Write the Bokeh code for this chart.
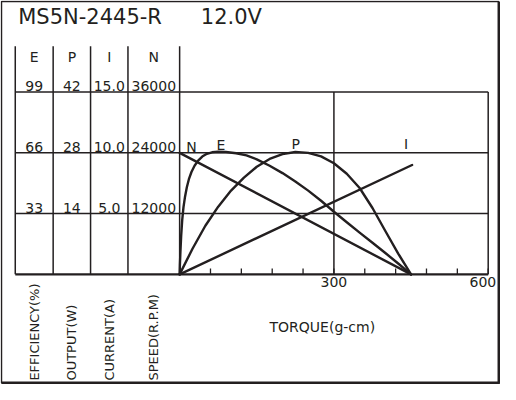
from math import pi

from bokeh.core.properties import value
from bokeh.embed import file_html
from bokeh.models import Range1d
from bokeh.plotting import figure
from bokeh.resources import INLINE


# Curves (torque in g-cm)
torque_n = [0, 450]
speed    = [24000, 0]

torque_i = [0, 452]
current  = [0, 9.0]

torque_p = [0, 25, 50, 75, 100, 125, 150, 175, 200, 225,
            250, 275, 300, 325, 350, 375, 400, 425, 450]
power    = [0, 5.9, 11.2, 15.6, 19.3, 22.3, 24.8, 26.6, 27.7, 28.2,
            28.0, 27.2, 25.6, 23.2, 19.9, 15.3, 10.0, 4.8, 0]

torque_e   = [0, 0.5, 1.5, 3, 5, 7.5, 10.5, 14, 18, 23, 29, 36, 44, 53, 63, 75,
              90, 110, 130, 150, 175, 200, 225, 250, 275, 300, 325, 350, 375,
              400, 425, 450]
efficiency = [0, 5.0, 12.0, 21.0, 29.5, 36.5, 42.2, 47.3, 51.7, 55.6, 59.0, 61.8,
              64.0, 65.5, 66.3, 66.6, 66.5, 65.8, 64.6, 62.5, 59.0, 55.0, 50.5,
              45.5, 40.0, 34.0, 28.3, 22.7, 17.2, 11.6, 5.9, 0]

# Table scales
eff_ticks = [99, 66, 33]
out_ticks = [42, 28, 14]
cur_ticks = [15.0, 10.0, 5.0]
spd_ticks = [36000, 24000, 12000]
headers   = ["E", "P", "I", "N"]
names     = ["EFFICIENCY(%)", "OUTPUT(W)", "CURRENT(A)", "SPEED(R.P.M)"]

torque_ticks  = [60, 120, 180, 240, 300, 360, 420, 480, 540, 600]
torque_labels = ["300", "600"]

curve_labels = ["N", "E", "P", "I"]

title_model = "MS5N-2445-R"
title_volt  = "12.0V"
x_title     = "TORQUE(g-cm)"


INK  = "#231f20"
FONT = "DejaVu Sans"

# layout of the drawing, in pixels of the original sheet
KX = 600 / 313.5      # torque per px
KY = 36000 / 187.0    # rpm per px


def tx(px):
    return (px - 185) * KX


def ty(py):
    return (284 - py) * KY


y0, y1 = ty(397), ty(3)
p = figure(
    width=500, height=384,
    x_range=Range1d(tx(3), tx(511)), y_range=Range1d(y0, y1),
    x_axis_type=None, y_axis_type=None,
    output_backend="svg", toolbar_location=None, min_border=0,
)
p.grid.visible = False
p.outline_line_color = None
p.background_fill_color = "white"
p.extra_y_ranges = {
    "eff": Range1d(y0 * 99 / 36000, y1 * 99 / 36000),
    "out": Range1d(y0 * 42 / 36000, y1 * 42 / 36000),
    "cur": Range1d(y0 * 15 / 36000, y1 * 15 / 36000),
}

# outer frame, heavier on the right and bottom
p.multi_line(
    xs=[[tx(4), tx(4), tx(509.5)], [tx(4), tx(509.5)]],
    ys=[[ty(395.5), ty(4), ty(4)], [ty(395.5), ty(395.5)]],
    line_color=INK, line_width=1.5,
)
p.multi_line(
    xs=[[tx(509.5), tx(509.5), tx(4)]],
    ys=[[ty(4), ty(395.5), ty(395.5)]],
    line_color=INK, line_width=3,
)

# table columns and grid
col_edges = [tx(18), tx(56.5), tx(94.5), tx(132.5), 0]
col_mid = [(a + b) / 2 for a, b in zip(col_edges[:-1], col_edges[1:])]
p.segment(x0=col_edges, y0=[ty(50)] * 5, x1=col_edges, y1=[0] * 5,
          line_color=INK, line_width=1.5)
p.segment(x0=[tx(18)] * 3, y0=spd_ticks, x1=[torque_ticks[-1]] * 3, y1=spd_ticks,
          line_color=INK, line_width=1.5)
p.segment(x0=[tx(18)], y0=[0], x1=[torque_ticks[-1]], y1=[0],
          line_color=INK, line_width=2.2)
p.segment(x0=[300, 600], y0=[0, 0], x1=[300, 600], y1=[spd_ticks[0]] * 2,
          line_color=INK, line_width=1.5)
p.segment(x0=torque_ticks, y0=[0] * len(torque_ticks),
          x1=torque_ticks, y1=[6 * KY] * len(torque_ticks),
          line_color=INK, line_width=1.3)

txt = dict(text_color=INK, text_font=value(FONT))

# torque labels; the last one is pulled in so it stays inside the frame
p.text(x=[300], y=[0], text=torque_labels[:1], text_align="center",
       text_baseline="top", y_offset=3, text_font_size="14px", **txt)
p.text(x=[600], y=[0], text=torque_labels[1:], text_align="right",
       text_baseline="top", x_offset=8, y_offset=3, text_font_size="14px", **txt)
p.text(x=[tx(330)], y=[ty(338)], text=[x_title], text_align="center",
       text_baseline="middle", text_font_size="14px", **txt)

# headers and scale values
p.text(x=col_mid, y=[ty(61)] * 4, text=headers, text_align="center",
       text_baseline="middle", text_font_size="14px", **txt)
cols = [
    (eff_ticks, "eff", [str(v) for v in eff_ticks]),
    (out_ticks, "out", [str(v) for v in out_ticks]),
    (cur_ticks, "cur", ["%.1f" % v for v in cur_ticks]),
    (spd_ticks, "default", [str(v) for v in spd_ticks]),
]
for cx, (vals, rng, labels) in zip(col_mid, cols):
    p.text(x=[cx] * len(vals), y=vals, text=labels, y_range_name=rng,
           text_align="center", text_baseline="bottom", y_offset=-1,
           text_font_size="14px", **txt)

p.text(x=col_mid, y=[ty(393)] * 4, text=names, angle=pi / 2,
       text_align="left", text_baseline="middle", text_font_size="13px", **txt)

# title
p.text(x=[tx(21)], y=[ty(19.5)], text=[title_model], text_align="left",
       text_baseline="middle", text_font_size="21px", **txt)
p.text(x=[tx(206.5)], y=[ty(19.5)], text=[title_volt], text_align="left",
       text_baseline="middle", text_font_size="21px", **txt)

# curves
curve = dict(line_color=INK, line_width=2.4, line_join="round", line_cap="round")
p.line(torque_n, speed, **curve)
p.line(torque_i, current, y_range_name="cur", **curve)
p.line(torque_p, power, y_range_name="out", **curve)
p.line(torque_e, efficiency, y_range_name="eff", **curve)

p.text(x=[tx(197), tx(227), tx(303), tx(415)],
       y=[ty(153), ty(151), ty(150), ty(150)], text=curve_labels,
       text_align="center", text_baseline="middle", text_font_size="14px", **txt)

open("out.html", "w").write(file_html(p, INLINE))
